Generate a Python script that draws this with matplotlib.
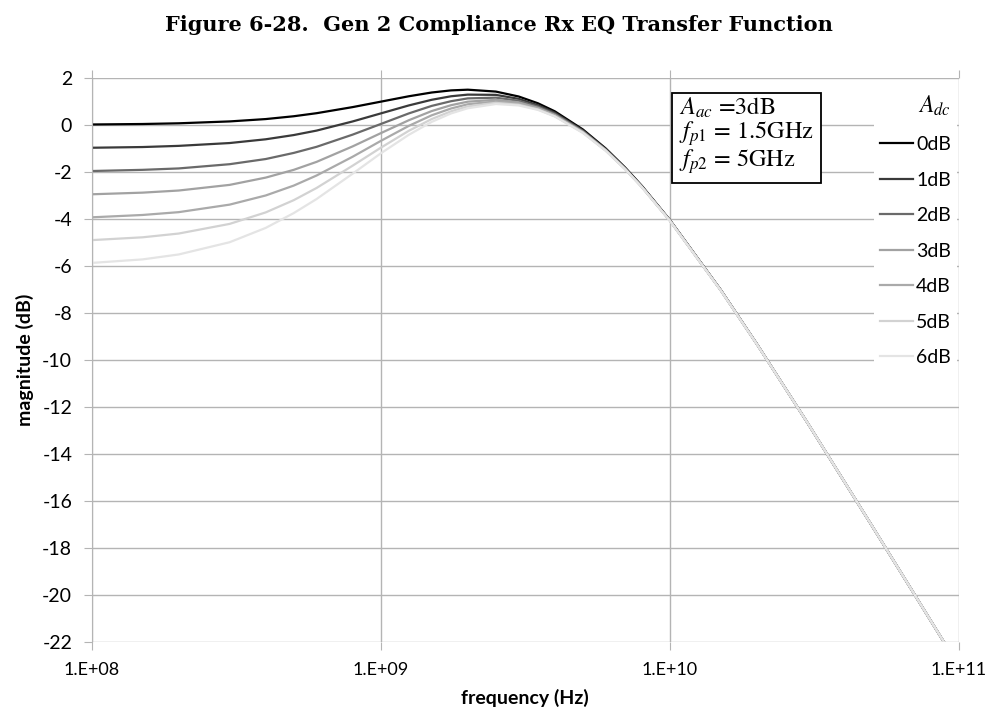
import numpy as np
import matplotlib
matplotlib.use("Agg")
import matplotlib.pyplot as plt
from matplotlib.ticker import FixedLocator, NullLocator

plt.rcParams['axes.unicode_minus'] = False
plt.rcParams['mathtext.fontset'] = 'stix'

# frequency points in GHz
freq_ghz = [0.1, 0.15, 0.2, 0.3, 0.4, 0.5, 0.6, 0.8, 1.0, 1.25, 1.5, 1.75, 2.0,
            2.5, 3.0, 3.5, 4.0, 5.0, 6.0, 7.0, 8.0, 10, 15, 20, 30, 50, 70, 100]

# magnitude (dB), one list per A_dc
mag_0db = [0.02, 0.04, 0.07, 0.15, 0.25, 0.37, 0.50, 0.76, 0.99, 1.22, 1.38, 1.47, 1.50,
           1.42, 1.21, 0.92, 0.58, -0.19, -1.00, -1.81, -2.59, -4.04, -7.02, -9.32, -12.69, -17.05, -19.95, -23.03]
mag_1db = [-0.97, -0.94, -0.89, -0.77, -0.61, -0.43, -0.24, 0.15, 0.49, 0.83, 1.07, 1.22, 1.29,
           1.28, 1.11, 0.84, 0.52, -0.23, -1.03, -1.83, -2.61, -4.05, -7.02, -9.32, -12.69, -17.05, -19.95, -23.03]
mag_2db = [-1.96, -1.91, -1.85, -1.67, -1.45, -1.19, -0.93, -0.41, 0.04, 0.49, 0.81, 1.01, 1.13,
           1.16, 1.03, 0.78, 0.47, -0.26, -1.05, -1.85, -2.62, -4.06, -7.03, -9.32, -12.69, -17.05, -19.95, -23.03]
mag_3db = [-2.95, -2.88, -2.79, -2.55, -2.24, -1.91, -1.57, -0.91, -0.35, 0.20, 0.59, 0.84, 0.99,
           1.07, 0.96, 0.73, 0.43, -0.29, -1.07, -1.86, -2.63, -4.06, -7.03, -9.32, -12.69, -17.05, -19.95, -23.03]
mag_4db = [-3.93, -3.83, -3.71, -3.39, -3.00, -2.58, -2.15, -1.35, -0.68, -0.04, 0.41, 0.70, 0.88,
           1.00, 0.91, 0.69, 0.40, -0.31, -1.08, -1.87, -2.64, -4.07, -7.03, -9.32, -12.69, -17.05, -19.95, -23.03]
mag_5db = [-4.90, -4.78, -4.62, -4.21, -3.72, -3.20, -2.68, -1.73, -0.97, -0.25, 0.25, 0.58, 0.79,
           0.94, 0.86, 0.66, 0.37, -0.32, -1.09, -1.88, -2.64, -4.07, -7.04, -9.33, -12.69, -17.05, -19.95, -23.03]
mag_6db = [-5.87, -5.72, -5.51, -4.99, -4.38, -3.75, -3.15, -2.07, -1.21, -0.42, 0.13, 0.49, 0.71,
           0.89, 0.83, 0.64, 0.36, -0.34, -1.10, -1.88, -2.65, -4.08, -7.04, -9.33, -12.69, -17.05, -19.95, -23.03]

series = [mag_0db, mag_1db, mag_2db, mag_3db, mag_4db, mag_5db, mag_6db]
labels = ['0dB', '1dB', '2dB', '3dB', '4dB', '5dB', '6dB']
colors = ['#000000', '#3a3a3a', '#6a6a6a', '#a2a2a2', '#aaaaaa', '#d2d2d2', '#e4e4e4']

xticks = [1e8, 1e9, 1e10, 1e11]
xticklabels = ['1.E+08', '1.E+09', '1.E+10', '1.E+11']
yticks = list(range(-22, 3, 2))

fig = plt.figure(figsize=(10.02, 7.15), dpi=100)
ax = fig.add_axes([0.0915, 0.102, 0.8655, 0.789])

f_hz = np.array(freq_ghz) * 1e9
for mag, lab, col in zip(series, labels, colors):
    ax.plot(f_hz, mag, color=col, lw=1.6, label=lab)

ax.set_xscale('log')
ax.set_xlim(1e8, 1e11)
ax.set_ylim(-22, 2)
ax.xaxis.set_major_locator(FixedLocator(xticks))
ax.xaxis.set_minor_locator(NullLocator())
ax.set_xticklabels(xticklabels, fontsize=13, family='Lato')
ax.set_yticks(yticks)
ax.set_yticklabels([str(v) for v in yticks], fontsize=14, family='Lato')
ax.grid(True, color='#b4b4b4', lw=1)
ax.tick_params(axis='x', which='major', direction='out', length=6, color='#b4b4b4',
               top=True, pad=8)
ax.tick_params(axis='y', direction='out', length=6, color='#b4b4b4', pad=8)
for s in ['top', 'right', 'bottom']:
    ax.spines[s].set_visible(False)
ax.spines['left'].set_color('#b4b4b4')

ax.set_xlabel('frequency (Hz)', fontsize=14, fontweight='bold', family='Lato', labelpad=8)
ax.set_ylabel('magnitude (dB)', fontsize=14, fontweight='bold', family='Lato', labelpad=6)

fig.text(0.4975, 0.965, 'Figure 6-28.  Gen 2 Compliance Rx EQ Transfer Function',
         ha='center', va='center', fontsize=15, fontweight='bold', family='DejaVu Serif')

leg = ax.legend(loc='upper left', bbox_to_anchor=(0.863, 0.891), bbox_transform=fig.transFigure,
                title=r'$A_{dc}$', fontsize=14, labelspacing=0.95, handlelength=1.7,
                handletextpad=0.15, borderpad=0.3, frameon=True, fancybox=False,
                framealpha=1, facecolor='white', edgecolor='none')
leg.get_title().set_fontsize(17)
leg._legend_box.align = 'right'
for t in leg.get_texts():
    t.set_family('Lato')

ax.text(0.678, 0.866,
        '$A_{ac}$ =3dB\n$f_{p1}$ = 1.5GHz\n$f_{p2}$ = 5GHz',
        transform=fig.transFigure, ha='left', va='top', fontsize=17.5,
        family='STIXGeneral', linespacing=0.95,
        bbox=dict(boxstyle='square,pad=0.3', facecolor='white', edgecolor='black', lw=1.3))

fig.savefig('out.png', dpi=100)
